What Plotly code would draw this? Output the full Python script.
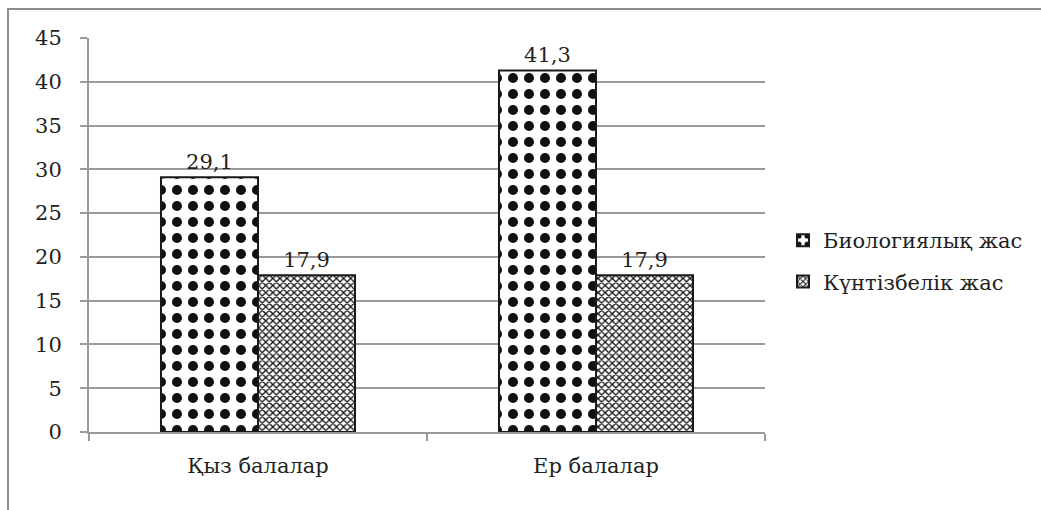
import plotly.graph_objects as go

# Chart data
categories = ["Қыз балалар", "Ер балалар"]
series_names = ["Биологиялық жас", "Күнтізбелік жас"]
biological_age = [29.1, 41.3]
calendar_age = [17.9, 17.9]
y_ticks = [0, 5, 10, 15, 20, 25, 30, 35, 40, 45]

W, H = 1041, 510
L, R, T, B = 89, 765, 38, 432  # plot-area edges in pixels

FONT = "DejaVu Serif"
FS = 21
GRID = "#9a9a9a"
TXT = "#231f20"

fig = go.Figure()

fig.add_trace(go.Bar(
    name=series_names[0],
    x=categories,
    y=biological_age,
    legendgroup="a",
    marker=dict(
        color="white",
        line=dict(color="#1a1a1a", width=2),
        pattern=dict(shape=".", fgcolor="#111111", bgcolor="white",
                     size=16, solidity=0.31, fillmode="replace"),
    ),
    texttemplate="%{y:.1f}",
    textposition="outside",
    textfont=dict(family=FONT, size=FS, color=TXT),
    cliponaxis=False,
))

fig.add_trace(go.Bar(
    name=series_names[1],
    x=categories,
    y=calendar_age,
    legendgroup="b",
    marker=dict(
        color="white",
        line=dict(color="#1a1a1a", width=2),
        pattern=dict(shape="x", fgcolor="#111111", bgcolor="white",
                     size=5, solidity=0.45, fillmode="replace"),
    ),
    texttemplate="%{y:.1f}",
    textposition="outside",
    textfont=dict(family=FONT, size=FS, color=TXT),
    cliponaxis=False,
))

pw, ph = R - L, B - T

def px_x(p):
    return (p - L) / pw

def px_y(p):
    return (B - p) / ph

# outer chart frame
fig.add_shape(type="rect", xref="paper", yref="paper",
              x0=px_x(8), x1=px_x(1080), y0=px_y(560), y1=px_y(9),
              line=dict(color="#8c8c8c", width=2), fillcolor="rgba(0,0,0,0)",
              layer="below")

fig.update_layout(
    width=W, height=H,
    margin=dict(l=L, r=W - R, t=T, b=H - B),
    paper_bgcolor="white",
    plot_bgcolor="white",
    separators=", ",
    barmode="group",
    bargap=0.426,
    bargroupgap=0,
    font=dict(family=FONT, size=FS, color=TXT),
    showlegend=True,
    legend=dict(
        xref="container", x=783 / W, y=px_y(220),
        xanchor="left", yanchor="top",
        font=dict(family=FONT, size=FS, color=TXT),
        traceorder="grouped", tracegroupgap=11,
        itemwidth=30, bgcolor="rgba(0,0,0,0)",
    ),
    xaxis=dict(
        type="category",
        showline=True, linecolor=GRID, linewidth=2,
        ticks="outside", tickson="boundaries", ticklen=7,
        tickcolor=GRID, tickwidth=2,
        showgrid=False,
        tickfont=dict(family=FONT, size=FS, color=TXT),
        ticklabelstandoff=14,
    ),
    yaxis=dict(
        range=[0, 45],
        tickvals=y_ticks,
        showline=True, linecolor=GRID, linewidth=2,
        ticks="outside", ticklen=7, tickcolor=GRID, tickwidth=2,
        showgrid=True, gridcolor=GRID, gridwidth=1.5,
        zeroline=False,
        tickfont=dict(family=FONT, size=FS, color=TXT),
        ticklabelstandoff=14,
    ),
)

fig.write_html("out.html")
